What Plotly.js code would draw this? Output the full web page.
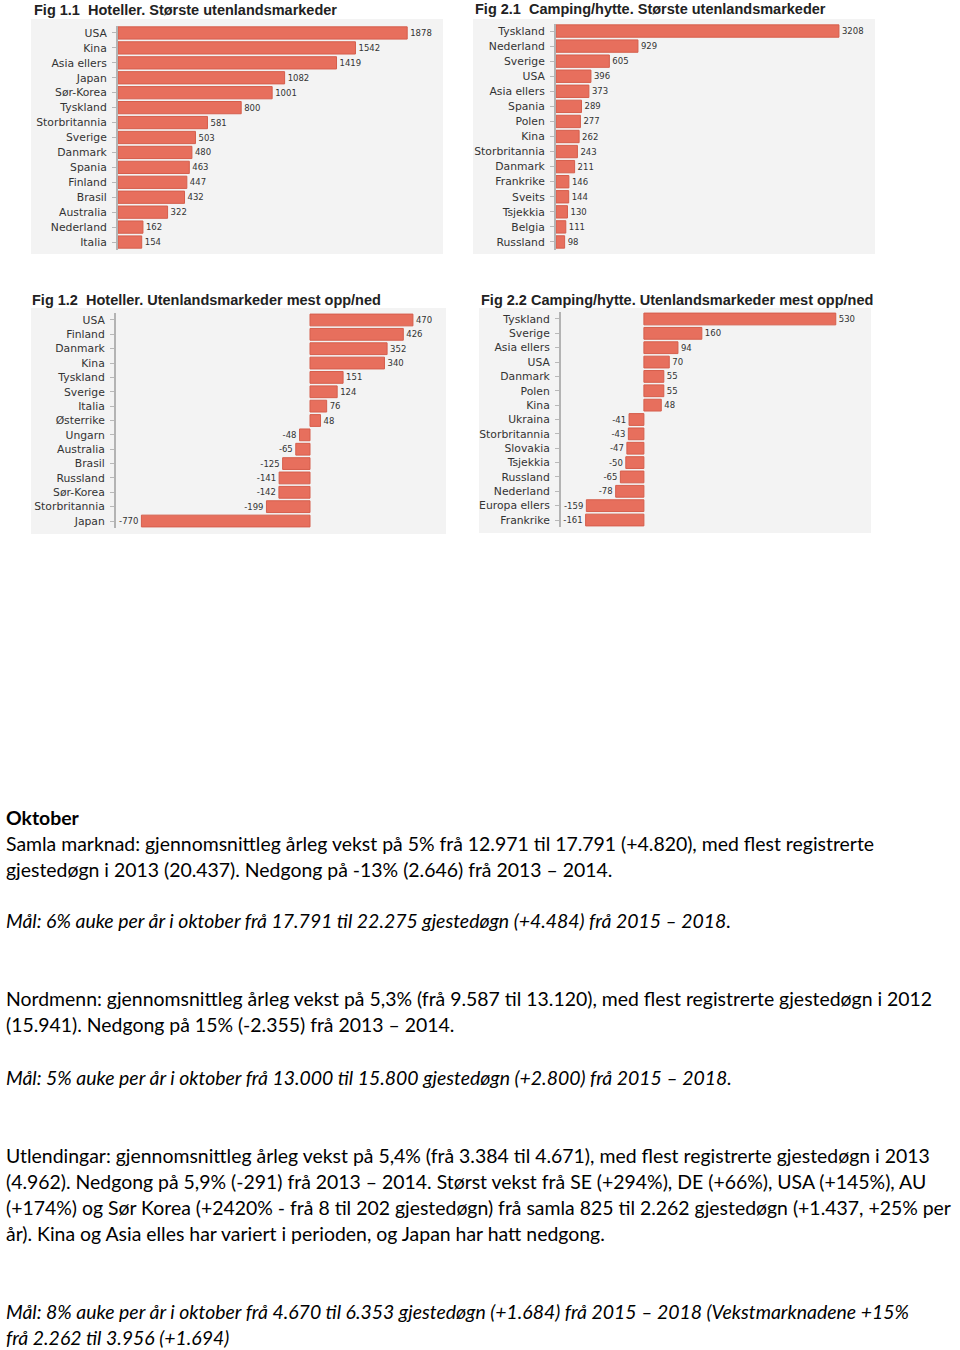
<!DOCTYPE html>
<html>
<head>
<meta charset="utf-8">
<script src="https://cdn.plot.ly/plotly-3.0.1.min.js"></script>
<style>html,body{margin:0;padding:0;background:#fff;}#chart{width:960px;height:1350px;}</style>
</head>
<body>
<div id="chart"></div>
<script>
// ---- data ----
const hotelTopCats = ['USA','Kina','Asia ellers','Japan','Sør-Korea','Tyskland','Storbritannia','Sverige','Danmark','Spania','Finland','Brasil','Australia','Nederland','Italia'];
const hotelTopVals = [1878,1542,1419,1082,1001,800,581,503,480,463,447,432,322,162,154];
const campTopCats = ['Tyskland','Nederland','Sverige','USA','Asia ellers','Spania','Polen','Kina','Storbritannia','Danmark','Frankrike','Sveits','Tsjekkia','Belgia','Russland'];
const campTopVals = [3208,929,605,396,373,289,277,262,243,211,146,144,130,111,98];
const hotelChgCats = ['USA','Finland','Danmark','Kina','Tyskland','Sverige','Italia','Østerrike','Ungarn','Australia','Brasil','Russland','Sør-Korea','Storbritannia','Japan'];
const hotelChgVals = [470,426,352,340,151,124,76,48,-48,-65,-125,-141,-142,-199,-770];
const campChgCats = ['Tyskland','Sverige','Asia ellers','USA','Danmark','Polen','Kina','Ukraina','Storbritannia','Slovakia','Tsjekkia','Russland','Nederland','Europa ellers','Frankrike'];
const campChgVals = [530,160,94,70,55,55,48,-41,-43,-47,-50,-65,-78,-159,-161];

const chartTitles = [
  'Fig 1.1  Hoteller. Største utenlandsmarkeder',
  'Fig 2.1  Camping/hytte. Største utenlandsmarkeder',
  'Fig 1.2  Hoteller. Utenlandsmarkeder mest opp/ned',
  'Fig 2.2 Camping/hytte. Utenlandsmarkeder mest opp/ned'
];

const textLines = [
  ['b', 'Oktober'],
  ['n', 'Samla marknad: gjennomsnittleg årleg vekst på 5% frå 12.971 til 17.791 (+4.820), med flest registrerte'],
  ['n', 'gjestedøgn i 2013 (20.437). Nedgong på -13% (2.646) frå 2013 – 2014.'],
  ['i', 'Mål: 6% auke per år i oktober frå 17.791 til 22.275 gjestedøgn (+4.484) frå 2015 – 2018.'],
  ['n', 'Nordmenn: gjennomsnittleg årleg vekst på 5,3% (frå 9.587 til 13.120), med flest registrerte gjestedøgn i 2012'],
  ['n', '(15.941). Nedgong på 15% (-2.355) frå 2013 – 2014.'],
  ['i', 'Mål: 5% auke per år i oktober frå 13.000 til 15.800 gjestedøgn (+2.800) frå 2015 – 2018.'],
  ['n', 'Utlendingar: gjennomsnittleg årleg vekst på 5,4% (frå 3.384 til 4.671), med flest registrerte gjestedøgn i 2013'],
  ['n', '(4.962). Nedgong på 5,9% (-291) frå 2013 – 2014. Størst vekst frå SE (+294%), DE (+66%), USA (+145%), AU'],
  ['n', '(+174%) og Sør Korea (+2420% - frå 8 til 202 gjestedøgn) frå samla 825 til 2.262 gjestedøgn (+1.437, +25% per'],
  ['n', 'år). Kina og Asia elles har variert i perioden, og Japan har hatt nedgong.'],
  ['i', 'Mål: 8% auke per år i oktober frå 4.670 til 6.353 gjestedøgn (+1.684) frå 2015 – 2018 (Vekstmarknadene +15%'],
  ['i', 'frå 2.262 til 3.956 (+1.694)']
];

// ---- layout helpers (pixel -> paper) ----
const W = 960, H = 1350;
const px = x => x / W;
const py = y => 1 - y / H;

const BAR = '#e76f5d', BARLINE = '#d55e4c';
const TXT_FONT = 'Lato, "Open Sans", sans-serif';

// fit paragraph font: reference line spans ~885 px, no line wider than ~948 px
const cv = document.createElement('canvas').getContext('2d');
cv.font = '100px Lato';
const refW = cv.measureText(textLines[1][1]).width;
let maxW = 0;
textLines.forEach(l => { cv.font = (l[0] === 'i' ? 'italic ' : '') + '100px Lato'; maxW = Math.max(maxW, cv.measureText(l[1]).width); });
const paraSize = Math.max(14, Math.min(21, 885 / refW * 100, 946 / maxW * 100));

function barTrace(cats, vals, xa, ya) {
  return {
    type: 'bar', orientation: 'h', x: vals, y: cats, xaxis: xa, yaxis: ya,
    text: vals.map(v => String(v)), textposition: 'outside', cliponaxis: false,
    constraintext: 'none',
    textfont: {family: 'DejaVu Sans', size: 8.5, color: '#333'},
    marker: {color: BAR, line: {color: BARLINE, width: 1}},
    hoverinfo: 'x+y', showlegend: false
  };
}

const data = [
  barTrace(hotelTopCats, hotelTopVals, 'x', 'y'),
  barTrace(campTopCats, campTopVals, 'x2', 'y2'),
  barTrace(hotelChgCats, hotelChgVals, 'x3', 'y3'),
  barTrace(campChgCats, campChgVals, 'x4', 'y4')
];

function xAx(l, r, range) {
  return {domain: [px(l), px(r)], range: range, visible: false, showgrid: false, zeroline: false, fixedrange: true};
}
function yAx(top, bot, anchor) {
  return {
    domain: [py(bot), py(top)], anchor: anchor, type: 'category', autorange: 'reversed',
    showline: true, linecolor: '#b3b3b3', linewidth: 2, ticks: 'outside', ticklen: 4,
    tickcolor: '#b8b8b8', tickwidth: 1, showgrid: false, zeroline: false, ticklabelstandoff: 3,
    tickfont: {family: 'DejaVu Sans', size: 10.8, color: '#333'}, fixedrange: true
  };
}

const panels = [[31, 19, 443, 254], [473, 19, 875, 254], [31, 308, 446, 534], [479, 308, 871, 533]];
const shapes = panels.map(p => ({
  type: 'rect', xref: 'paper', yref: 'paper', x0: px(p[0]), x1: px(p[2]), y0: py(p[3]), y1: py(p[1]),
  fillcolor: '#f3f3f3', line: {width: 0}, layer: 'below'
}));

const titlePos = [[32, 10], [473, 9], [30, 300], [479, 300]];
const annotations = chartTitles.map((t, i) => ({
  text: '<b>' + t + '</b>', xref: 'paper', yref: 'paper', x: px(titlePos[i][0]), y: py(titlePos[i][1]),
  xanchor: 'left', yanchor: 'middle', showarrow: false,
  font: {family: 'Liberation Sans, Arial, sans-serif', size: 14.5, color: '#222'}
}));

const lineY = [817, 843, 869, 920, 998, 1024, 1077, 1155, 1181, 1207, 1233, 1311, 1337];
textLines.forEach((ln, i) => {
  const t = ln[0] === 'b' ? '<b>' + ln[1] + '</b>' : (ln[0] === 'i' ? '<i>' + ln[1] + '</i>' : ln[1]);
  annotations.push({
    text: t, xref: 'paper', yref: 'paper', x: px(4), y: py(lineY[i]),
    xanchor: 'left', yanchor: 'middle', showarrow: false, align: 'left',
    font: {family: TXT_FONT, size: paraSize, color: '#000'}
  });
});

const layout = {
  width: W, height: H, margin: {l: 0, r: 0, t: 0, b: 0},
  paper_bgcolor: '#fff', plot_bgcolor: 'rgba(0,0,0,0)',
  bargap: 0.18, showlegend: false,
  xaxis: xAx(118, 442, [0, 2104]),
  yaxis: yAx(25.5, 249.5, 'x'),
  xaxis2: xAx(556, 873, [0, 3594]),
  yaxis2: yAx(23.5, 249.5, 'x2'),
  xaxis3: xAx(116, 446, [-886, 621]),
  yaxis3: yAx(312.8, 528.2, 'x3'),
  xaxis4: xAx(561, 868, [-229, 619]),
  yaxis4: yAx(311.8, 527.2, 'x4'),
  shapes: shapes, annotations: annotations
};

Plotly.newPlot('chart', data, layout, {displayModeBar: false, staticPlot: true});
</script>
</body>
</html>
